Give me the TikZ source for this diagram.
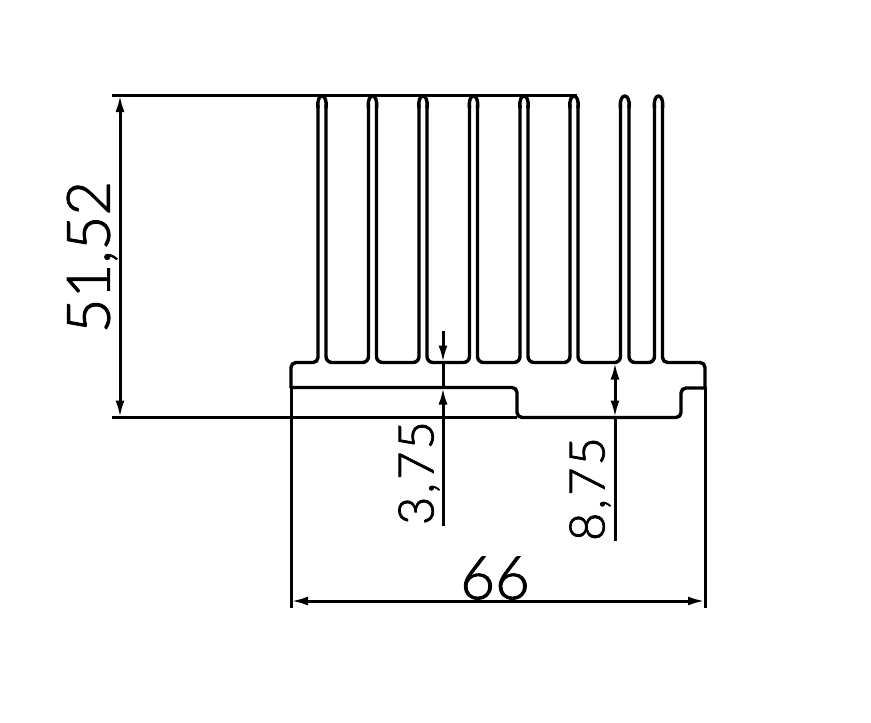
\documentclass[tikz,border=0pt]{standalone}
\usepackage{fontspec}
\setmainfont{Lato Light}[FakeBold=1.5]
\usetikzlibrary{arrows.meta}
\tikzset{%
  >={Latex[width=9pt,length=17pt]},
  % Specifications for style of lines and labels:
  profile/.style = {line width=3.4pt, line cap=round, line join=round},
  dimLine/.style = {line width=3pt},
  dimText/.style = {font=\fontsize{60}{60}\selectfont\addfontfeatures{FakeBold=1.5}, inner sep=0pt},
  dimSmall/.style = {font=\fontsize{49}{49}\selectfont\addfontfeatures{FakeBold=1.5}, inner sep=0pt},
}
\begin{document}
\begin{tikzpicture}[x=1pt,y=-1pt]
  \useasboundingbox (0,0) rectangle (871,723);

  % Fins: channels between them
  \foreach \xa/\xb in {326/368.5,376.5/419,427/469.5,477.5/520,528/570,578/620.5,629/654.5}
    \draw[profile, rounded corners=6pt] (\xa,105) -- (\xa,362.5) -- (\xb,362.5) -- (\xb,105);

  % Fin tips
  \foreach \xa/\xb in {318/326,368.5/376.5,419/427,469.5/477.5,520/528,570/578,620.5/629,654.5/662.5}
    \draw[profile] (\xa,108) .. controls (\xa-2,92) and (\xb+2,92) .. (\xb,108);

  % Outer outline of the base
  \draw[profile, rounded corners=5pt] (318,105) -- (318,362.5) -- (291,362.5) -- (291,387.5);
  \draw[profile, rounded corners=5pt] (662.5,105) -- (662.5,362.5) -- (705,362.5) -- (705,388);
  \draw[profile, rounded corners=5pt] (291,387.5) -- (517,387.5) -- (517,417.5) -- (681,417.5) -- (681,388) -- (705,388);

  % Extension lines and dimension lines
  \coordinate (topLeft) at (112,95);
  \coordinate (topRight) at (577,95);
  \coordinate (bottomLeft) at (112,417.5);
  \coordinate (bottomRight) at (517,417.5);
  \coordinate (heightTop) at (120,95);
  \coordinate (heightBottom) at (120,417.5);
  \coordinate (widthLeftTop) at (291,387);
  \coordinate (widthLeftEnd) at (291,608);
  \coordinate (widthRightTop) at (705,387);
  \coordinate (widthRightEnd) at (705,608);
  \coordinate (widthLeft) at (291,601);
  \coordinate (widthRight) at (705,601);
  \coordinate (baseTop) at (443,331);
  \coordinate (baseUpper) at (443,362.5);
  \coordinate (baseLower) at (443,387.5);
  \coordinate (baseEnd) at (443,526);
  \coordinate (footUpper) at (615,362.5);
  \coordinate (footLower) at (615,417.5);
  \coordinate (footEnd) at (615,541);

  \draw[dimLine] (topLeft) -- (topRight);
  \draw[dimLine] (bottomLeft) -- (bottomRight);
  \draw[dimLine] (widthLeftTop) -- (widthLeftEnd);
  \draw[dimLine] (widthRightTop) -- (widthRightEnd);
  \draw[dimLine, <->] (heightTop) -- (heightBottom);
  \draw[dimLine, <->] (widthLeft) -- (widthRight);
  \draw[dimLine, ->] (baseTop) -- (baseUpper);
  \draw[dimLine] (baseUpper) -- (baseLower);
  \draw[dimLine, ->] (baseEnd) -- (baseLower);
  \draw[dimLine, <->] (footUpper) -- (footLower);
  \draw[dimLine] (footLower) -- (footEnd);

  % Labels
  \node (heightLabel) [dimText, rotate=90] at (92,257) {51,52};
  \node (baseLabel) [dimSmall, rotate=90] at (419,473) {3\kern3pt,\kern3pt7\kern2pt5};
  \node (footLabel) [dimSmall, rotate=90] at (590,489) {8\kern3pt,\kern3pt7\kern2pt5};
  \node (widthLabel) [dimText] at (495,578) {66};
\end{tikzpicture}
\end{document}
